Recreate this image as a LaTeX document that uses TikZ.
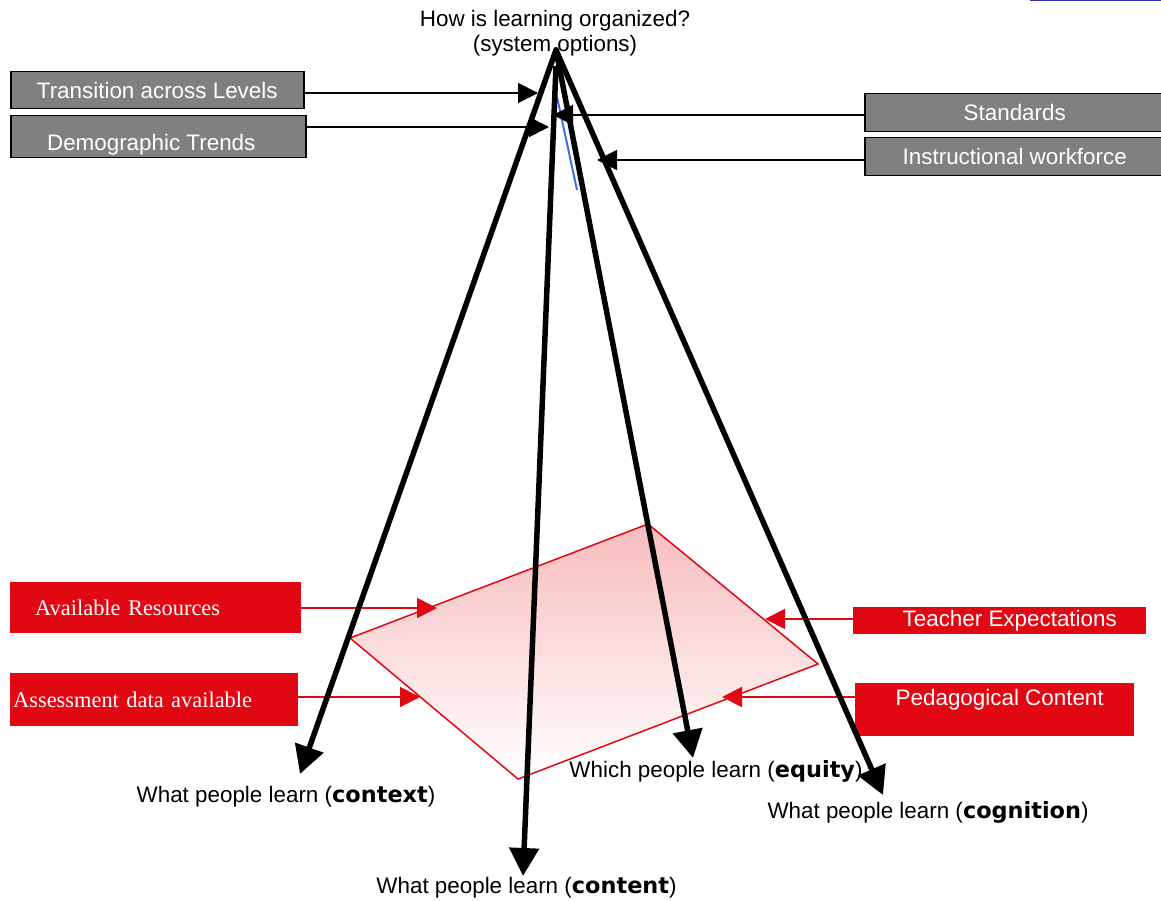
\documentclass[tikz,border=0pt]{standalone}
\usepackage{fontspec}
\setmainfont{Liberation Sans}
\newfontfamily\seriffont{Liberation Serif}
\newfontfamily\heavyfont{DejaVu Sans Bold}
\usetikzlibrary{arrows.meta}
\definecolor{boxgray}{RGB}{128,128,128}
\definecolor{boxred}{RGB}{226,8,19}
\definecolor{pinktop}{RGB}{247,188,190}
\definecolor{linkblue}{RGB}{50,50,170}
\definecolor{lineblue}{RGB}{60,110,230}
\newcommand{\hv}[1]{{\heavyfont #1}}
\begin{document}
\begin{tikzpicture}[x=1pt,y=-1pt,
  font=\fontsize{22.4}{27}\selectfont,
  graybox/.style={draw=black, line width=1.5pt, fill=boxgray, text=white, inner sep=0pt, anchor=north west},
  redbox/.style={fill=boxred, text=white, inner sep=0pt, anchor=north west},
  serifbox/.style={redbox, align=left, font=\seriffont\fontsize{22.4}{27}\selectfont},
  mainarrow/.style={line width=5.5pt, -{Triangle[length=28pt,width=29pt]}},
  feedarrow/.style={line width=1.8pt, -{Triangle[length=20pt,width=20pt]}},
  redarrow/.style={draw=boxred, line width=1.8pt, -{Triangle[length=20pt,width=20pt]}},
  lbl/.style={anchor=base, inner sep=0pt}]
\useasboundingbox (0,0) rectangle (1161,901);

% top-right blue rule
\coordinate (bl1) at (1030,0);
\coordinate (bl2) at (1161,0);
\draw[linkblue, line width=2pt] (bl1) -- (bl2);

% question
\node[lbl] (q1) at (555,27) {How is learning organized?};
\node[lbl] (q2) at (555,52) {(system options)};

% gray boxes
\node[graybox, minimum width=293pt, minimum height=37pt] (trans) at (10,71) {Transition across Levels};
\node[graybox, minimum width=295pt, minimum height=42pt, text height=28pt, text depth=0pt] (demo) at (10,115) {Demographic Trends\hspace*{14pt}};
\node[graybox, minimum width=300pt, minimum height=38pt] (std) at (864,93) {Standards};
\node[graybox, minimum width=300pt, minimum height=38pt] (instr) at (864,137) {Instructional workforce};

% red boxes
\node[serifbox, minimum width=291pt, minimum height=51pt, text width=241pt, inner xsep=25pt] (avail) at (10,582) {Available Resources};
\node[serifbox, minimum width=288pt, minimum height=53pt, text width=282pt, inner xsep=3pt] (assess) at (10,673) {Assessment data available};
\node[redbox, minimum width=293pt, minimum height=27pt] (teach) at (853,607) {\hspace*{20pt}Teacher Expectations};
\node[redbox, minimum width=279pt, minimum height=53pt, text height=16pt, text depth=25pt] (ped) at (855,683) {\hspace*{10pt}Pedagogical Content};

% plane
\coordinate (pl) at (350,638);
\coordinate (pt) at (648,524);
\coordinate (pr) at (818,664);
\coordinate (pb) at (518,779);
\path[draw=boxred, line width=1.5pt, top color=pinktop, bottom color=white] (pl) -- (pt) -- (pr) -- (pb) -- cycle;

% red arrows
\coordinate (hAvail) at (437,608);
\coordinate (hAssess) at (420,697);
\coordinate (hTeach) at (765,619);
\coordinate (hPed) at (722,697);
\draw[redarrow] (avail.east |- hAvail) -- (hAvail);
\draw[redarrow] (assess.east |- hAssess) -- (hAssess);
\draw[redarrow] (teach.west |- hTeach) -- (hTeach);
\draw[redarrow] (ped.west |- hPed) -- (hPed);

% labels
\node[lbl] (lctx) at (286,802) {What people learn (\hv{context})};
\node[lbl] (lcnt) at (526.5,893) {What people learn (\hv{content})};
\node[lbl] (leq) at (716,777) {Which people learn (\hv{equity})};
\node[lbl] (lcog) at (928,818) {What people learn (\hv{cognition})};

% blue line
\coordinate (b1) at (557,97);
\coordinate (b2) at (577,190);
\draw[lineblue, line width=2pt] (b1) -- (b2);

% main arrows
\coordinate (apex) at (556,50);
\coordinate (apex2) at (556,66);
\coordinate (tipctx) at (300,774);
\coordinate (tipcnt) at (523,876);
\coordinate (tipeq) at (693,758);
\coordinate (tipcog) at (883,795);
\draw[mainarrow] (apex) -- (tipctx);
\draw[mainarrow] (apex2) -- (tipcnt);
\draw[mainarrow] (apex) -- (tipeq);
\draw[mainarrow] (apex) -- (tipcog);
\fill (apex) circle (3pt);

% feed arrows
\coordinate (hTrans) at (538,93);
\coordinate (hDemo) at (549,127);
\coordinate (hStd) at (553,115);
\coordinate (hInstr) at (597,160);
\draw[feedarrow] (trans.east |- hTrans) -- (hTrans);
\draw[feedarrow] (demo.east |- hDemo) -- (hDemo);
\draw[feedarrow] (std.west |- hStd) -- (hStd);
\draw[feedarrow] (instr.west |- hInstr) -- (hInstr);
\end{tikzpicture}
\end{document}
